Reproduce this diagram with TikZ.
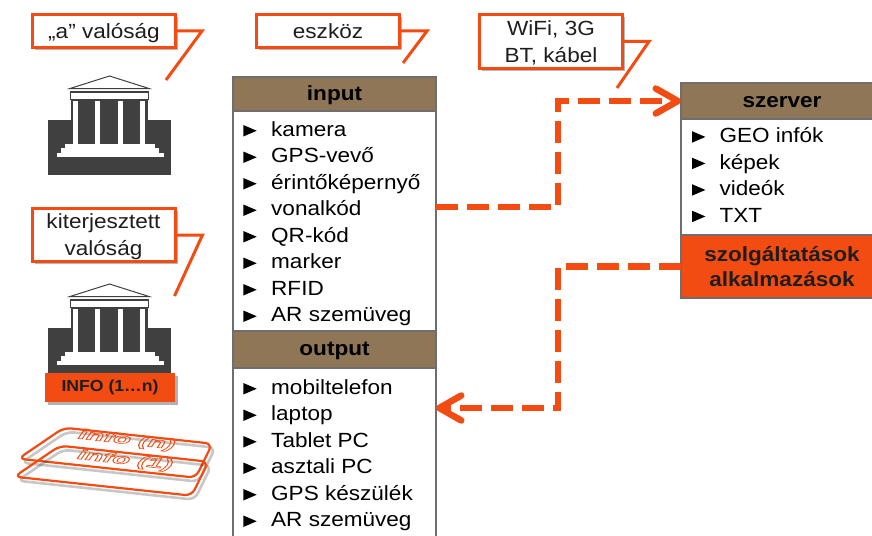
\documentclass[tikz,border=0pt]{standalone}
\usepackage{fontspec}
\setmainfont{Liberation Sans}[FakeStretch=1.1]
\usetikzlibrary{arrows.meta,shadows,calc}

\definecolor{accent}{RGB}{242,76,19}
\definecolor{hdrbrown}{RGB}{142,118,86}
\definecolor{frame}{RGB}{110,110,110}
\definecolor{stone}{RGB}{64,64,64}
\definecolor{ink}{RGB}{30,30,30}

% outline (hollow) glyphs through the PDF text render mode
\newcommand\hollowtext[1]{\special{pdf:code 1 Tr 1.1 w}#1\special{pdf:code 0 Tr}}

% classical building icon, drawn in its own frame
\newcommand\templeicon{%
  \fill[stone] (48.3,120) rectangle (171,175);
  \fill[stone] (70.7,99) rectangle (148.3,145);
  \filldraw[fill=white,draw=stone,line width=1pt,line join=miter] (70,88.5) -- (109.5,76) -- (149,88.5) -- cycle;
  \filldraw[fill=white,draw=stone,line width=1.2pt] (70.7,92) rectangle (148.3,99.3);
  \foreach \cx in {73.3,95,118.3,140}{\fill[white] (\cx,100.5) rectangle ++(5,43);}
  \fill[white] (65,144) rectangle (155,148.6);
  \fill[white] (60.7,148.4) rectangle (159.3,152.8);
  \fill[white] (56.7,152.6) rectangle (164,156.8);
}

\tikzset{
  txt/.style={font=\fontsize{20.5}{27}\selectfont},
  panel/.style={draw=frame,line width=1.5pt,inner sep=0pt,outer sep=0pt,minimum width=#1},
  panel/.default=203pt,
  hdr/.style={panel=#1,fill=hdrbrown,font=\fontsize{20.5}{27}\selectfont\bfseries,text height=15pt,text depth=3pt},
  hdr/.default=203pt,
  listbox/.style={panel=#1,fill=white},
  listbox/.default=203pt,
  item/.style={txt,anchor=base west,inner sep=0pt},
  callout/.style={txt,text=ink,draw=accent,line width=3pt,fill=white,inner sep=0pt,align=center,
    minimum width=143pt,text depth=0pt,
    drop shadow={shadow xshift=2.5pt,shadow yshift=-2.5pt,opacity=0.28,fill=black}},
  pointer/.style={draw=accent,line width=3pt,line join=miter},
  flow/.style={draw=accent,line width=6.5pt,dash pattern=on 22pt off 9pt,
    -{Straight Barb[length=22pt,width=25pt,round]}},
  card/.style={draw=accent,line width=2.2pt,rounded corners=7pt},
  cardshade/.style={draw=black,opacity=0.22,line width=2.6pt,rounded corners=7pt},
  cardtext/.style={font=\fontsize{26}{26}\selectfont\bfseries,inner sep=0pt,rotate=-6.5,yscale=0.55,xslant=0.3},
}

\begin{document}
\begin{tikzpicture}[x=1pt,y=-1pt]
\useasboundingbox (0,0) rectangle (872,535);
\clip (0,0) rectangle (872,535);

% ---------- left column: reality and augmented reality ----------
\templeicon
\begin{scope}[shift={(0,208)}]
  \templeicon
\end{scope}
\node[fill=accent,minimum width=130pt,minimum height=29pt,inner sep=0pt,
      font=\fontsize{16}{16}\selectfont\bfseries,text=ink,
      drop shadow={shadow xshift=2.5pt,shadow yshift=-2.5pt,opacity=0.3,fill=black}]
      (infobar) at (110,387.5) {INFO (1…n)};

% stacked info cards
\draw[cardshade] (67,431.7) -- (215.3,447.7) -- (198.7,481.7) -- (21.3,462.7) -- cycle;
\draw[card] (64,427.7) -- (212.3,443.7) -- (195.7,477.7) -- (18.3,458.7) -- cycle;
\node[cardtext,text=accent] (cardn) at (126.7,440.3) {\hollowtext{info (n)}};
\draw[cardshade] (63,449.7) -- (211.3,465.7) -- (194.7,499.7) -- (17.3,480.7) -- cycle;
\draw[card] (60,445.7) -- (208.3,461.7) -- (191.7,495.7) -- (14.3,476.7) -- cycle;
\node[cardtext,text=accent] (card1) at (125,460.5) {\hollowtext{info (1)}};

% ---------- callouts ----------
\node[callout,minimum height=33pt] (real) at (104,31) {„a” valóság};
\coordinate (realtip) at (166,80);
\draw[pointer] (real.east) -- ++(25,0) -- (realtip);

\node[callout,minimum height=53pt] (aug) at (103.5,235) {kiterjesztett\\valóság};
\coordinate (augtip) at (174.5,296);
\draw[pointer] (aug.east) -- ++(26,0) -- (augtip);

\node[callout,minimum height=33pt] (device) at (328,31) {eszköz};
\coordinate (devtip) at (403,63);
\draw[pointer] (device.east) -- ++(26,0) -- (devtip);

\node[callout,minimum height=54pt] (link) at (551,41.5) {WiFi, 3G\\BT, kábel};
\coordinate (linktip) at (617,88);
\draw[pointer] (link.east) -- ++(25,0) -- (linktip);

% ---------- device panel ----------
\node[hdr,minimum height=34pt] (inhead) at (334.5,94) {input};
\node[listbox,minimum height=220pt] (inlist) at (334.5,221) {};
\node[hdr,minimum height=37pt] (outhead) at (334.5,349.5) {output};
\node[listbox,minimum height=177pt] (outlist) at (334.5,456.5) {};

\foreach \t [count=\i] in {kamera,GPS-vevő,érintőképernyő,vonalkód,QR-kód,marker,RFID,AR szemüveg}{
  \node[item] (in\i) at (271,{136+26.5*(\i-1)}) {\t};
  \fill (in\i.base west) ++(-27.7,0.5) -- ++(0,-11.5) -- ++(13.4,5.75) -- cycle;
}
\foreach \t [count=\i] in {mobiltelefon,laptop,Tablet PC,asztali PC,GPS készülék,AR szemüveg}{
  \node[item] (out\i) at (271,{394+26.5*(\i-1)}) {\t};
  \fill (out\i.base west) ++(-27.7,0.5) -- ++(0,-11.5) -- ++(13.4,5.75) -- cycle;
}

% ---------- server panel ----------
\node[hdr=202pt,minimum height=36pt] (srvhead) at (782,101) {szerver};
\node[listbox=202pt,minimum height=116pt] (srvlist) at (782,177) {};
\node[panel=202pt,fill=accent,minimum height=63pt,txt,font=\fontsize{20.5}{25}\selectfont\bfseries,
      text=ink,align=center,text depth=0pt] (svc) at (782,266.5) {szolgáltatások\\alkalmazások};
\foreach \t [count=\i] in {GEO infók,képek,videók,TXT}{
  \node[item] (srv\i) at (719.3,{142.7+26.5*(\i-1)}) {\t};
  \fill (srv\i.base west) ++(-27.3,0) -- ++(0,-11.5) -- ++(13.4,5.75) -- cycle;
}

% ---------- data flows ----------
\coordinate (j1) at (558,207);
\draw[flow] (j1 -| inlist.east) -- (j1) |- (srvhead.west);
\coordinate (j2) at (558,408);
\draw[flow] (svc.west) -| (j2) -- (j2 -| outlist.east);
\end{tikzpicture}
\end{document}
